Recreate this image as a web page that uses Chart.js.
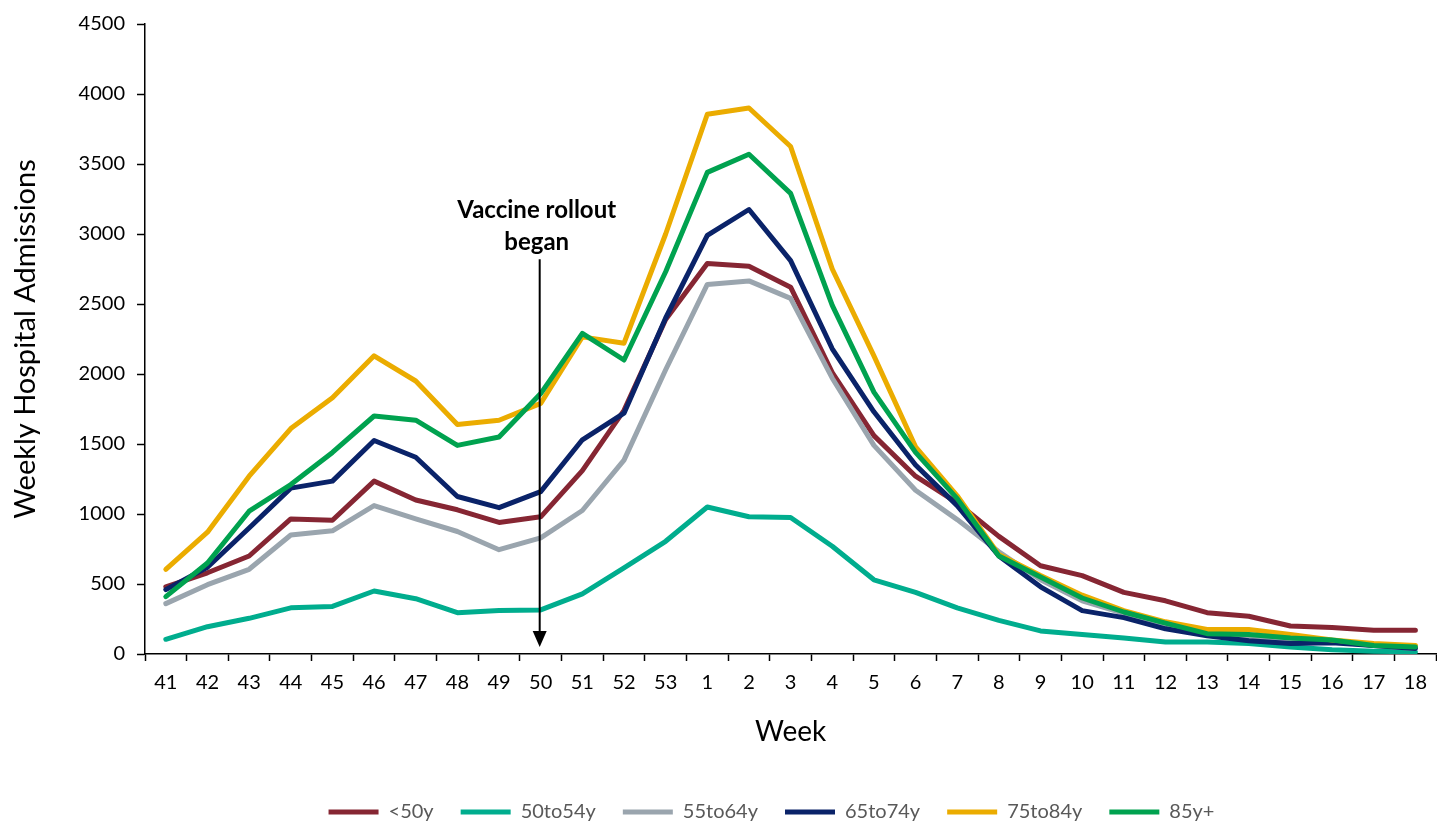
<!DOCTYPE html>
<html>
<head>
<meta charset="utf-8">
<script src="https://cdn.jsdelivr.net/npm/chart.js@4/dist/chart.umd.min.js"></script>
<style>
  html,body{margin:0;padding:0;background:#fff;}
  #wrap{width:1437px;height:826px;position:relative;}
</style>
</head>
<body>
<div id="wrap"><canvas id="grafico"></canvas></div>
<script>
// semanas epidemiológicas (41 a 53, depois 1 a 18)
const semanas=['41','42','43','44','45','46','47','48','49','50','51','52','53',
  '1','2','3','4','5','6','7','8','9','10','11','12','13','14','15','16','17','18'];
const yTicks=[0,500,1000,1500,2000,2500,3000,3500,4000,4500];

// internações semanais por faixa etária
const menos50=[480,580,700,965,955,1235,1100,1030,940,980,1310,1740,2390,
  2790,2770,2620,2010,1560,1270,1080,840,630,560,440,380,295,270,200,190,170,170];
const de50a54=[105,195,255,330,340,450,395,295,310,315,430,615,805,
  1050,980,975,770,530,440,330,240,165,140,115,85,85,75,50,30,20,15];
const de55a64=[360,495,605,850,880,1060,965,875,745,830,1025,1385,2030,
  2640,2665,2540,1970,1490,1170,960,730,530,380,290,210,140,120,90,90,60,40];
const de65a74=[460,620,900,1185,1235,1525,1405,1125,1045,1160,1530,1720,2400,
  2990,3175,2810,2180,1730,1350,1060,700,480,310,260,180,130,95,75,80,60,40];
const de75a84=[605,870,1270,1610,1830,2130,1950,1640,1670,1790,2265,2220,3000,
  3855,3900,3625,2750,2130,1480,1130,710,560,420,310,230,175,175,140,100,75,60];
const mais85=[410,650,1020,1210,1440,1700,1670,1490,1550,1860,2290,2100,2730,
  3440,3570,3290,2490,1870,1440,1110,700,550,400,300,220,145,140,115,100,60,50];

const series=[
  {nome:'<50y',v:menos50,c:'#862633'},
  {nome:'50to54y',v:de50a54,c:'#00AD8E'},
  {nome:'55to64y',v:de55a64,c:'#9AA5AE'},
  {nome:'65to74y',v:de65a74,c:'#0A2369'},
  {nome:'75to84y',v:de75a84,c:'#EBAC00'},
  {nome:'85y+',v:mais85,c:'#00A24F'},
];

const FONTE='Lato, "Open Sans", sans-serif';

// seta "Vaccine rollout began" na semana 50
const marcoVacina={
  id:'marcoVacina',
  afterDatasetsDraw(chart,args,o){
    const {ctx,scales:{x,y}}=chart;
    const px=x.getPixelForValue(semanas.indexOf(o.semana))-1;
    const topo=y.getPixelForValue(o.de), ponta=y.getPixelForValue(o.ate);
    ctx.save();
    ctx.strokeStyle='#000';ctx.fillStyle='#000';ctx.lineWidth=2;
    ctx.beginPath();ctx.moveTo(px,topo);ctx.lineTo(px,ponta-14);ctx.stroke();
    ctx.beginPath();ctx.moveTo(px-7,ponta-16);ctx.lineTo(px+7,ponta-16);ctx.lineTo(px,ponta);ctx.closePath();ctx.fill();
    ctx.font='bold 24px '+FONTE;ctx.textAlign='center';ctx.textBaseline='middle';
    ctx.fillText(o.texto[0],px-3,topo-49);
    ctx.fillText(o.texto[1],px-3,topo-17);
    ctx.restore();
  }
};

// empurra a legenda um pouco para a direita e para baixo
const ajusteLegenda={
  id:'ajusteLegenda',
  afterLayout(chart,args,o){
    const l=chart.legend; if(!l)return;
    l.left+=o.dx; l.right+=o.dx; l.top+=o.dy; l.bottom+=o.dy;
  }
};

new Chart(document.getElementById('grafico'),{
  type:'line',
  data:{
    labels:semanas,
    datasets:series.map((s,i)=>({
      label:s.nome,data:s.v,borderColor:s.c,backgroundColor:s.c,
      borderWidth:5,pointRadius:0,tension:0,
      borderJoinStyle:'round',borderCapStyle:'round',
      order:series.length-i
    }))
  },
  options:{
    responsive:true,maintainAspectRatio:false,animation:false,
    layout:{padding:{top:15,right:0,bottom:0,left:0}},
    plugins:{
      tooltip:{enabled:false},
      legend:{
        position:'bottom',
        labels:{
          usePointStyle:true,pointStyle:'line',pointStyleWidth:50,
          color:'#595959',font:{family:FONTE,size:20},padding:27,
          sort:(a,b)=>a.datasetIndex-b.datasetIndex
        }
      },
      ajusteLegenda:{dx:53,dy:6},
      marcoVacina:{semana:'50',de:2820,ate:50,texto:['Vaccine rollout','began']}
    },
    scales:{
      x:{
        offset:true,
        grid:{display:true,drawOnChartArea:false,offset:true,color:'#000',tickLength:7,tickWidth:1.5},
        border:{color:'#000',width:1.5},
        ticks:{color:'#000',font:{family:FONTE,size:20},padding:10,maxRotation:0,autoSkip:false},
        title:{display:true,text:'Week',color:'#000',font:{family:FONTE,size:28},padding:{bottom:20}},
        afterFit(s){s.height=115;}
      },
      y:{
        min:0,max:4500,
        afterBuildTicks(s){s.ticks=yTicks.map(v=>({value:v}));},
        grid:{display:true,drawOnChartArea:false,color:'#000',tickLength:8,tickWidth:1.5},
        border:{color:'#000',width:1.5},
        ticks:{color:'#000',font:{family:FONTE,size:20},padding:12,callback:v=>String(v)},
        title:{display:true,text:'Weekly Hospital Admissions',color:'#000',font:{family:FONTE,size:29},padding:{top:8}},
        afterFit(s){s.width=145;}
      }
    }
  },
  plugins:[marcoVacina,ajusteLegenda]
});
</script>
</body>
</html>
